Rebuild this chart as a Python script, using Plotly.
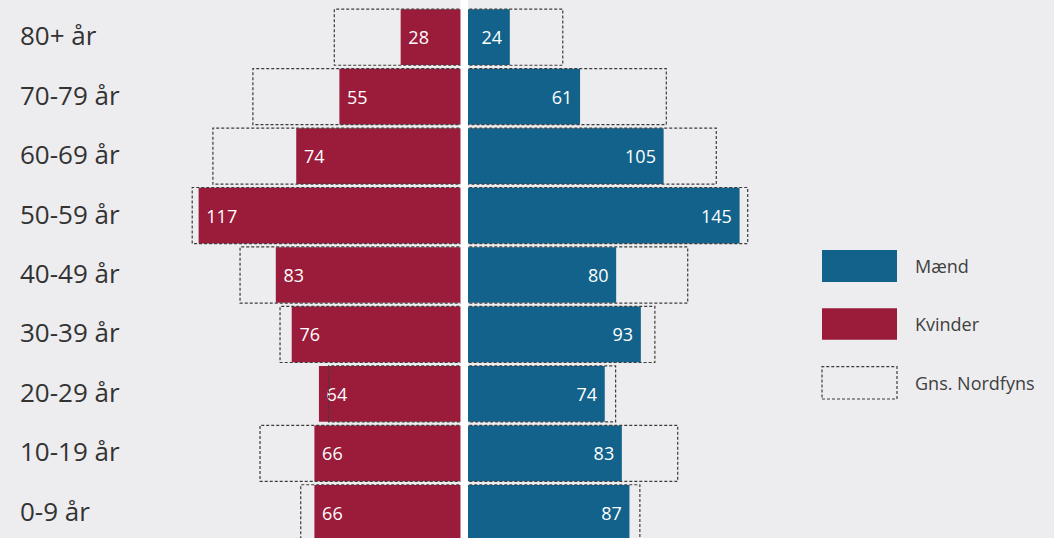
import plotly.graph_objects as go

# aldersgrupper oppefra og ned
aldersgrupper = ["80+ år", "70-79 år", "60-69 år", "50-59 år", "40-49 år",
                 "30-39 år", "20-29 år", "10-19 år", "0-9 år"]
kvinder = [28, 55, 74, 117, 83, 76, 64, 66, 66]
maend = [24, 61, 105, 145, 80, 93, 74, 83, 87]
# gennemsnit Nordfyns (andel i pct.)
gns_kvinder = [9.1, 14.8, 17.6, 19.05, 15.7, 12.9, 9.5, 14.3, 11.45]
gns_maend = [6.9, 14.15, 17.65, 19.85, 15.65, 13.35, 10.6, 14.95, 12.3]

RED = "#9B1B3A"
BLUE = "#12628B"
BG = "#EDEDEF"
W, H = 1054, 538

andel_k = [v / sum(kvinder) * 100 for v in kvinder]
andel_m = [v / sum(maend) * 100 for v in maend]
pos = list(range(len(aldersgrupper)))

fig = go.Figure()

fig.add_trace(go.Bar(
    y=pos, x=[-a for a in andel_k], orientation="h", name="Kvinder",
    marker=dict(color=RED, line=dict(width=0)),
    width=0.937, text=kvinder, texttemplate="\u00a0%{text}",
    textposition="inside", insidetextanchor="end",
    textfont=dict(family="Open Sans", size=18, color="white"),
    hoverinfo="skip",
))
fig.add_trace(go.Bar(
    y=pos, x=andel_m, orientation="h", name="Mænd",
    marker=dict(color=BLUE, line=dict(width=0)),
    width=0.937, text=maend, texttemplate="%{text}\u00a0",
    textposition="inside", insidetextanchor="end",
    textfont=dict(family="Open Sans", size=18, color="white"),
    hoverinfo="skip",
))

# stiplede kasser for gennemsnit
h = 0.472
for side, vals in ((-1, gns_kvinder), (1, gns_maend)):
    xs, ys = [], []
    for i, g in zip(pos, vals):
        xs += [0, side * g, side * g, 0, None]
        ys += [i - h, i - h, i + h, i + h, None]
    fig.add_trace(go.Scatter(
        x=xs, y=ys, mode="lines", hoverinfo="skip",
        line=dict(color="#3c3c3c", width=1.2, dash="3px,2px"),
    ))

# aldersgruppe-etiketter, venstrestillet
for i, lab in zip(pos, aldersgrupper):
    fig.add_annotation(x=18 / W, xref="paper", y=i, yref="y", text=lab,
                       xanchor="left", yanchor="middle", showarrow=False, yshift=2,
                       font=dict(family="Open Sans", size=26, color="#333333"))

# hvid midterlinje
fig.add_shape(type="rect", xref="x", yref="paper", x0=-0.263, x1=0.263,
              y0=0, y1=1, fillcolor="white", line_width=0, layer="above")

# egen forklaring
def py(v):
    return 1 - v / H

legend = [("Mænd", 250, 282, BLUE, None),
          ("Kvinder", 308.3, 339.7, RED, None),
          ("Gns. Nordfyns", 366.7, 399, None, "#3c3c3c")]
for label, top, bot, fill, line in legend:
    if fill:
        fig.add_shape(type="rect", xref="paper", yref="paper",
                      x0=822 / W, x1=897 / W, y0=py(bot), y1=py(top),
                      fillcolor=fill, line_width=0)
    else:
        fig.add_shape(type="rect", xref="paper", yref="paper",
                      x0=822 / W, x1=897 / W, y0=py(bot), y1=py(top),
                      fillcolor="rgba(0,0,0,0)",
                      line=dict(color=line, width=1.2, dash="3px,2px"))
    fig.add_annotation(x=913 / W, xref="paper", y=py((top + bot) / 2), yref="paper",
                       text=label, xanchor="left", yanchor="middle", showarrow=False,
                       font=dict(family="Open Sans", size=18, color="#404040"))

fig.update_layout(
    width=W, height=H,
    margin=dict(l=0, r=0, t=0, b=0),
    paper_bgcolor=BG, plot_bgcolor=BG,
    barmode="overlay", showlegend=False,
    xaxis=dict(range=[-32.51, 41.30], visible=False, fixedrange=True),
    yaxis=dict(range=[8.424, -0.626], visible=False, fixedrange=True),
)

fig.write_html("out.html", config={"displayModeBar": False},
               post_script="document.body.style.margin='0';document.body.style.overflow='hidden';")
